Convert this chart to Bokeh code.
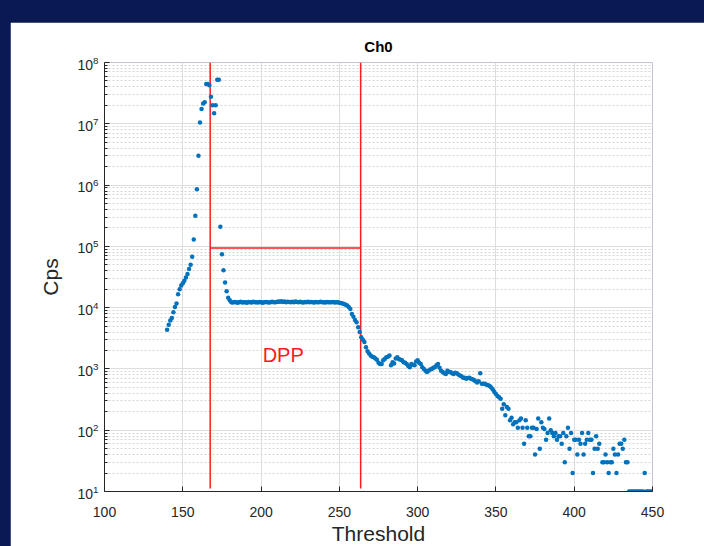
from bokeh.plotting import figure
from bokeh.models import FixedTicker, Range1d
from bokeh.embed import file_html
from bokeh.resources import INLINE
from bokeh.core.properties import value

# ---------------- data ----------------
rise_thr = list(range(140, 181))
rise_cps = [4370, 5250, 6170, 6760, 8410, 10200, 11700, 16600, 20000, 22900,
            25100, 27500, 30900, 35500, 42700, 50100, 67600, 129000, 316000, 851000,
            3.02e6, 1.05e7, 1.74e7, 2.14e7, 2.24e7, 4.47e7, 4.47e7, 4.27e7, 2.75e7, 2.0e7,
            1.48e7, 2.0e7, 5.25e7, 5.25e7, 209000, 74100, 40700, 25700, 18600, 14500,
            13200]

plateau_thr = list(range(181, 253))
plateau_cps = [12300, 12100, 12400, 12200, 12000, 12300, 12500, 12100, 12300, 12200,
               12000, 12400, 12300, 12100, 12500, 12200, 12300, 12100, 12400, 12200,
               12000, 12300, 12400, 12200, 12100, 12300, 12500, 12300, 12200, 12400,
               12600, 12500, 12700, 12400, 12600, 12300, 12500, 12400, 12200, 12500,
               12300, 12600, 12400, 12200, 12500, 12300, 12100, 12400, 12300, 12500,
               12200, 12400, 12300, 12100, 12400, 12200, 12300, 12500, 12200, 12300,
               12100, 12400, 12200, 12300, 12200, 12400, 12100, 12300, 12200, 12000,
               11900, 11700]

fall_thr = list(range(253, 354))
fall_cps = [11500, 11200, 10800, 10200, 9500, 7900, 7100, 6300, 5750, 4800, 4000, 3300, 3000, 2750,
            2250, 1950, 1780, 1660, 1580, 1550, 1480, 1410, 1260, 1200, 1200,
            1380, 1450, 1550, 1580, 1660, 1150, 1290, 1230, 1480, 1550, 1450, 1410, 1380,
            1290, 1260, 1200, 1120, 1070, 1200, 1175, 1150, 1320, 1380,
            1260, 1200, 1070, 1000, 930, 890, 930, 980, 1000, 1050,
            1070, 1150, 1200, 1050, 930, 890, 850, 830, 930, 890,
            890, 850, 830, 870, 850, 810, 780, 760, 720, 720,
            690, 710, 720, 690, 680, 660, 630, 600, 630, 850,
            575, 575, 575, 550, 540, 525, 500, 460, 420, 390, 360, 345, 325]

tail_thr = [354, 355, 356, 357, 358, 359, 360, 361, 362, 363, 364, 365, 366, 367, 368, 369,
            370, 371, 372, 373, 374, 375, 376, 377, 378, 379, 380, 381, 382, 383, 384, 385,
            386, 387, 388, 389, 390, 391, 392, 393, 394, 395, 396, 397, 398, 399, 400, 401,
            402, 403, 404, 405, 406, 407, 408, 409, 410, 411, 412, 413, 414, 415, 416, 418,
            419, 420, 421, 422, 423, 424, 425, 426, 427, 428, 429, 430, 431, 432, 433, 434,
            435, 436, 437, 438, 439, 440, 441, 442, 443, 444, 445, 446, 447, 448, 449, 450]
tail_cps = [225, 265, 175, 240, 225, 145, 160, 125, 135, 135, 110, 145, 155, 110, 60, 145,
            110, 80, 80, 110, 110, 40, 105, 155, 50, 135, 110, 105, 70, 90, 155, 100,
            90, 80, 90, 70, 80, 80, 60, 90, 30, 80, 110, 50, 90, 20, 70, 70,
            40, 70, 60, 90, 40, 60, 70, 90, 70, 70, 20, 50, 80, 50, 60, 30,
            30, 40, 30, 20, 30, 30, 50, 40, 20, 40, 60, 60, 50, 70, 30, 30,
            10, 10, 10, 10, 10, 10, 10, 10, 10, 10, 20, 10, 10, 10, 10, 10]

threshold = rise_thr + plateau_thr + fall_thr + tail_thr
cps = rise_cps + plateau_cps + fall_cps + tail_cps

dpp_low = 167.5
dpp_high = 263.6
dpp_level = 9.4e4
dpp_line_bottom = 11.2
dpp_line_top = 1e8
dpp_label_x = 201
dpp_label_y = 1660

x_ticks = [100, 150, 200, 250, 300, 350, 400, 450]
y_ticks = [10 ** k for k in range(1, 9)]
y_minor = [m * 10 ** k for k in range(1, 8) for m in range(2, 10)]

FONT = "Liberation Sans"
INK = "#262626"

# ---------------- figure ----------------
p = figure(frame_width=548, frame_height=429,
           x_range=Range1d(100, 450), y_range=Range1d(10, 1e8),
           y_axis_type="log", output_backend="svg", toolbar_location=None,
           min_border_left=94, min_border_right=52, min_border_top=40, min_border_bottom=30,
           background_fill_color="white", border_fill_color="white",
           outline_line_color=None, margin=(22, 0, 0, 10))

p.title.text = "Ch0"
p.title.align = "center"
p.title.text_font = FONT
p.title.text_font_size = "15px"
p.title.text_font_style = "bold"
p.title.text_color = "black"
p.title.standoff = 15

p.xaxis.ticker = FixedTicker(ticks=x_ticks)
p.yaxis.ticker = FixedTicker(ticks=y_ticks, minor_ticks=y_minor)

for ax in (p.xaxis[0], p.yaxis[0]):
    ax.axis_line_color = INK
    ax.major_tick_line_color = INK
    ax.minor_tick_line_color = INK
    ax.major_tick_in = 5
    ax.major_tick_out = 0
    ax.minor_tick_in = 3
    ax.minor_tick_out = 0
    ax.major_label_text_font = FONT
    ax.major_label_text_font_size = "14px"
    ax.major_label_text_color = INK
    ax.axis_label_text_font = FONT
    ax.axis_label_text_font_size = "21px"
    ax.axis_label_text_font_style = "normal"
    ax.axis_label_text_color = INK

p.xaxis.axis_label = "Threshold"
p.yaxis.axis_label = "Cps"
p.xaxis.major_label_standoff = 15
p.yaxis.major_label_standoff = 6
p.xaxis.axis_label_standoff = 2
p.yaxis.axis_label_standoff = 12

p.xgrid.grid_line_color = "#dedede"
p.ygrid.grid_line_color = "#dedede"
p.ygrid.minor_grid_line_color = "#d6d6d6"
p.ygrid.minor_grid_line_dash = "2 2"

# DPP window lines
p.line([dpp_low, dpp_low], [dpp_line_bottom, dpp_line_top], line_color="#ff1a1a", line_width=1.5)
p.line([dpp_high, dpp_high], [dpp_line_bottom, dpp_line_top], line_color="#ff1a1a", line_width=1.5)
p.line([dpp_low, dpp_high], [dpp_level, dpp_level], line_color="#ff1a1a", line_width=1.5)

p.scatter(threshold, cps, size=4.5, fill_color="#0072BD", line_color=None)

p.text(x=[dpp_label_x], y=[dpp_label_y], text=["DPP"], text_color="#ff1a1a",
       text_font=value(FONT), text_font_size="20px", text_align="left",
       text_baseline="middle")

html = file_html(p, INLINE)
html = html.replace("</head>",
                    "<style>html,body{margin:0 !important;padding:0;background:#0b1953;overflow:hidden;}</style></head>")
open("out.html", "w").write(html)
